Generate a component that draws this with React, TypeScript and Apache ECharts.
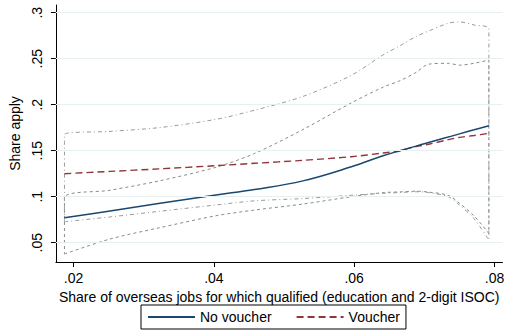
import React, { useEffect, useRef } from "react";
import * as echarts from "echarts";

const xs = [0.0187, 0.0252, 0.0321, 0.0403, 0.0458, 0.0527, 0.0596, 0.0641, 0.0665, 0.0688, 0.0706, 0.0734, 0.075, 0.0771, 0.0792];
const noVoucher = [0.0772, 0.0845, 0.0925, 0.1018, 0.1078, 0.1172, 0.1325, 0.1445, 0.15, 0.155, 0.159, 0.1648, 0.1683, 0.1727, 0.1772];
const noVoucherLo = [0.0377, 0.054, 0.066, 0.0793, 0.0855, 0.092, 0.1, 0.1044, 0.1052, 0.106, 0.105, 0.1015, 0.093, 0.079, 0.06];
const noVoucherHi = [0.0983, 0.107, 0.117, 0.132, 0.147, 0.173, 0.202, 0.219, 0.226, 0.235, 0.244, 0.245, 0.243, 0.245, 0.2486];
const voucher = [0.125, 0.1275, 0.1302, 0.1337, 0.1363, 0.1395, 0.1435, 0.1475, 0.15, 0.1545, 0.157, 0.162, 0.1645, 0.1665, 0.1689];
const voucherLo = [0.0728, 0.078, 0.084, 0.091, 0.0955, 0.098, 0.1015, 0.1037, 0.1045, 0.1054, 0.1045, 0.1, 0.091, 0.076, 0.0529];
const voucherHi = [0.1675, 0.171, 0.175, 0.1841, 0.194, 0.209, 0.232, 0.254, 0.264, 0.274, 0.28, 0.2885, 0.29, 0.2866, 0.282];
const xTicks = [0.02, 0.04, 0.06, 0.08];
const yTicks = [0.05, 0.1, 0.15, 0.2, 0.25, 0.3];

const FONT = "'Liberation Sans', Arial, Helvetica, sans-serif";

const pairs = (ys: number[]) => xs.map((x, i) => [x, ys[i]]);
const loop = (lo: number[], hi: number[]) => [
  ...pairs(lo),
  ...pairs(hi).reverse(),
  [xs[0], lo[0]],
];
const fmt = (v: number) => String(+v.toFixed(3)).replace(/^0\./, ".");

export default function App() {
  const ref = useRef<HTMLDivElement>(null);
  useEffect(() => {
    if (!ref.current) return;
    const chart = echarts.init(ref.current, null, { renderer: "svg" });
    chart.setOption({
      animation: false,
      backgroundColor: "#ffffff",
      textStyle: { fontFamily: FONT },
      grid: { left: 44, right: 1, top: 5, bottom: 71 },
      xAxis: {
        type: "value",
        min: 0.017481,
        max: 0.081142,
        name: "Share of overseas jobs for which qualified (education and 2-digit ISOC)",
        nameLocation: "middle",
        nameGap: 17,
        nameTextStyle: { fontSize: 14, color: "#000", fontFamily: FONT },
        axisLine: { show: true, lineStyle: { color: "#000", width: 1 } },
        axisTick: { show: true, length: 5, customValues: xTicks, lineStyle: { color: "#000" } },
        axisLabel: { customValues: xTicks, formatter: fmt, fontSize: 14, color: "#000", margin: 9, fontFamily: FONT },
        splitLine: { show: false },
      },
      yAxis: {
        type: "value",
        min: 0.02902,
        max: 0.30837,
        name: "Share apply",
        nameLocation: "middle",
        nameGap: 22,
        nameTextStyle: { fontSize: 14, color: "#000", fontFamily: FONT },
        axisLine: { show: true, lineStyle: { color: "#000", width: 1 } },
        axisTick: { show: true, length: 5, customValues: yTicks, lineStyle: { color: "#000" } },
        axisLabel: {
          customValues: yTicks,
          formatter: fmt,
          fontSize: 14,
          color: "#000",
          rotate: 90,
          align: "center",
          verticalAlign: "middle",
          margin: 19,
          fontFamily: FONT,
        },
        splitLine: { show: false },
      },
      legend: {
        data: ["No voucher", "Voucher"],
        left: 141,
        top: 305,
        orient: "horizontal",
        padding: [5, 6],
        itemWidth: 47,
        itemHeight: 14,
        itemGap: 24,
        borderColor: "#000",
        borderWidth: 1,
        borderRadius: 0,
        itemStyle: { opacity: 0 },
        textStyle: { fontSize: 14, color: "#000", fontFamily: FONT },
      },
      series: [
        {
          name: "grid",
          type: "line",
          data: [],
          silent: true,
          markLine: {
            silent: true,
            symbol: "none",
            label: { show: false },
            lineStyle: { color: "#e6eff1", width: 1, type: "solid" },
            data: yTicks.map((v) => ({ yAxis: v })),
          },
          z: 1,
        },
        {
          name: "CI no voucher",
          type: "line",
          data: loop(noVoucherLo, noVoucherHi),
          showSymbol: false,
          symbol: "none",
          smooth: 0.3,
          lineStyle: { color: "#8a8a8a", width: 1, type: [3, 3] },
          z: 2,
        },
        {
          name: "CI voucher",
          type: "line",
          data: loop(voucherLo, voucherHi),
          showSymbol: false,
          symbol: "none",
          smooth: 0.3,
          lineStyle: { color: "#9a9a9a", width: 1, type: [4, 3, 1, 3] },
          z: 2,
        },
        {
          name: "No voucher",
          type: "line",
          data: pairs(noVoucher),
          showSymbol: false,
          symbol: "none",
          smooth: 0.4,
          lineStyle: { color: "#1a476f", width: 1.5 },
          itemStyle: { color: "#1a476f" },
          z: 4,
        },
        {
          name: "Voucher",
          type: "line",
          data: pairs(voucher),
          showSymbol: false,
          symbol: "none",
          smooth: 0.3,
          lineStyle: { color: "#90353b", width: 1.4, type: [7, 4] },
          itemStyle: { color: "#90353b" },
          z: 3,
        },
      ],
    });
    return () => chart.dispose();
  }, []);
  return (
    <div
      ref={ref}
      style={{ position: "fixed", left: 0, top: 0, width: 507, height: 333, background: "#fff" }}
    />
  );
}
